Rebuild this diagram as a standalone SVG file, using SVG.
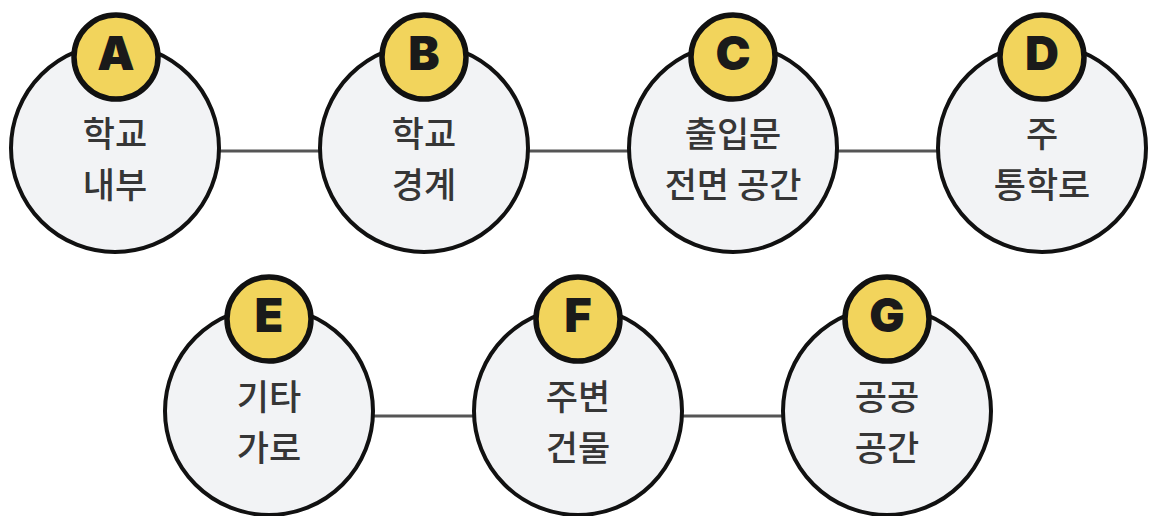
<svg xmlns="http://www.w3.org/2000/svg" width="1149" height="516" viewBox="0 0 1149 516">
<style>
.big{fill:#f2f3f5;stroke:#111;stroke-width:4}
.badge{fill:#f2d45c;stroke:#111;stroke-width:5.5}
.lt{font-family:Inter,"Liberation Sans",sans-serif;font-weight:900;font-size:47px;fill:#1a1a1a;text-anchor:middle}
.tx{font-family:"Noto Sans CJK KR","Noto Sans",sans-serif;font-weight:500;font-size:35px;fill:#363636;text-anchor:middle}
.ln{stroke:#555;stroke-width:3;fill:none}
</style>
<rect width="1149" height="516" fill="#ffffff"/>
<g id="connectors">
<line class="ln" x1="115" y1="151" x2="1042" y2="151"/>
<line class="ln" x1="269" y1="416" x2="887" y2="416"/>
</g>
<g id="nodeA">
<circle class="big" cx="115" cy="148" r="104"/>
<circle class="badge" cx="116" cy="57" r="42"/>
<text class="lt" x="116" y="70">A</text>
<text class="tx" x="115" y="147">학교</text>
<text class="tx" x="115" y="198">내부</text>
</g>
<g id="nodeB">
<circle class="big" cx="424" cy="148" r="104"/>
<circle class="badge" cx="424" cy="57" r="42"/>
<text class="lt" x="424" y="70">B</text>
<text class="tx" x="424" y="147">학교</text>
<text class="tx" x="424" y="198">경계</text>
</g>
<g id="nodeC">
<circle class="big" cx="733" cy="148" r="104"/>
<circle class="badge" cx="733" cy="57" r="42"/>
<text class="lt" x="733" y="70">C</text>
<text class="tx" x="733" y="147">출입문</text>
<text class="tx" x="733" y="198">전면 공간</text>
</g>
<g id="nodeD">
<circle class="big" cx="1042" cy="148" r="104"/>
<circle class="badge" cx="1042" cy="57" r="42"/>
<text class="lt" x="1042" y="70">D</text>
<text class="tx" x="1042" y="147">주</text>
<text class="tx" x="1042" y="198">통학로</text>
</g>
<g id="nodeE">
<circle class="big" cx="269" cy="411" r="104"/>
<circle class="badge" cx="269" cy="319" r="42"/>
<text class="lt" x="269" y="332">E</text>
<text class="tx" x="269" y="410">기타</text>
<text class="tx" x="269" y="461">가로</text>
</g>
<g id="nodeF">
<circle class="big" cx="578" cy="411" r="104"/>
<circle class="badge" cx="578" cy="319" r="42"/>
<text class="lt" x="578" y="332">F</text>
<text class="tx" x="578" y="410">주변</text>
<text class="tx" x="578" y="461">건물</text>
</g>
<g id="nodeG">
<circle class="big" cx="887" cy="411" r="104"/>
<circle class="badge" cx="887" cy="319" r="42"/>
<text class="lt" x="887" y="332">G</text>
<text class="tx" x="887" y="410">공공</text>
<text class="tx" x="887" y="461">공간</text>
</g>
</svg>
